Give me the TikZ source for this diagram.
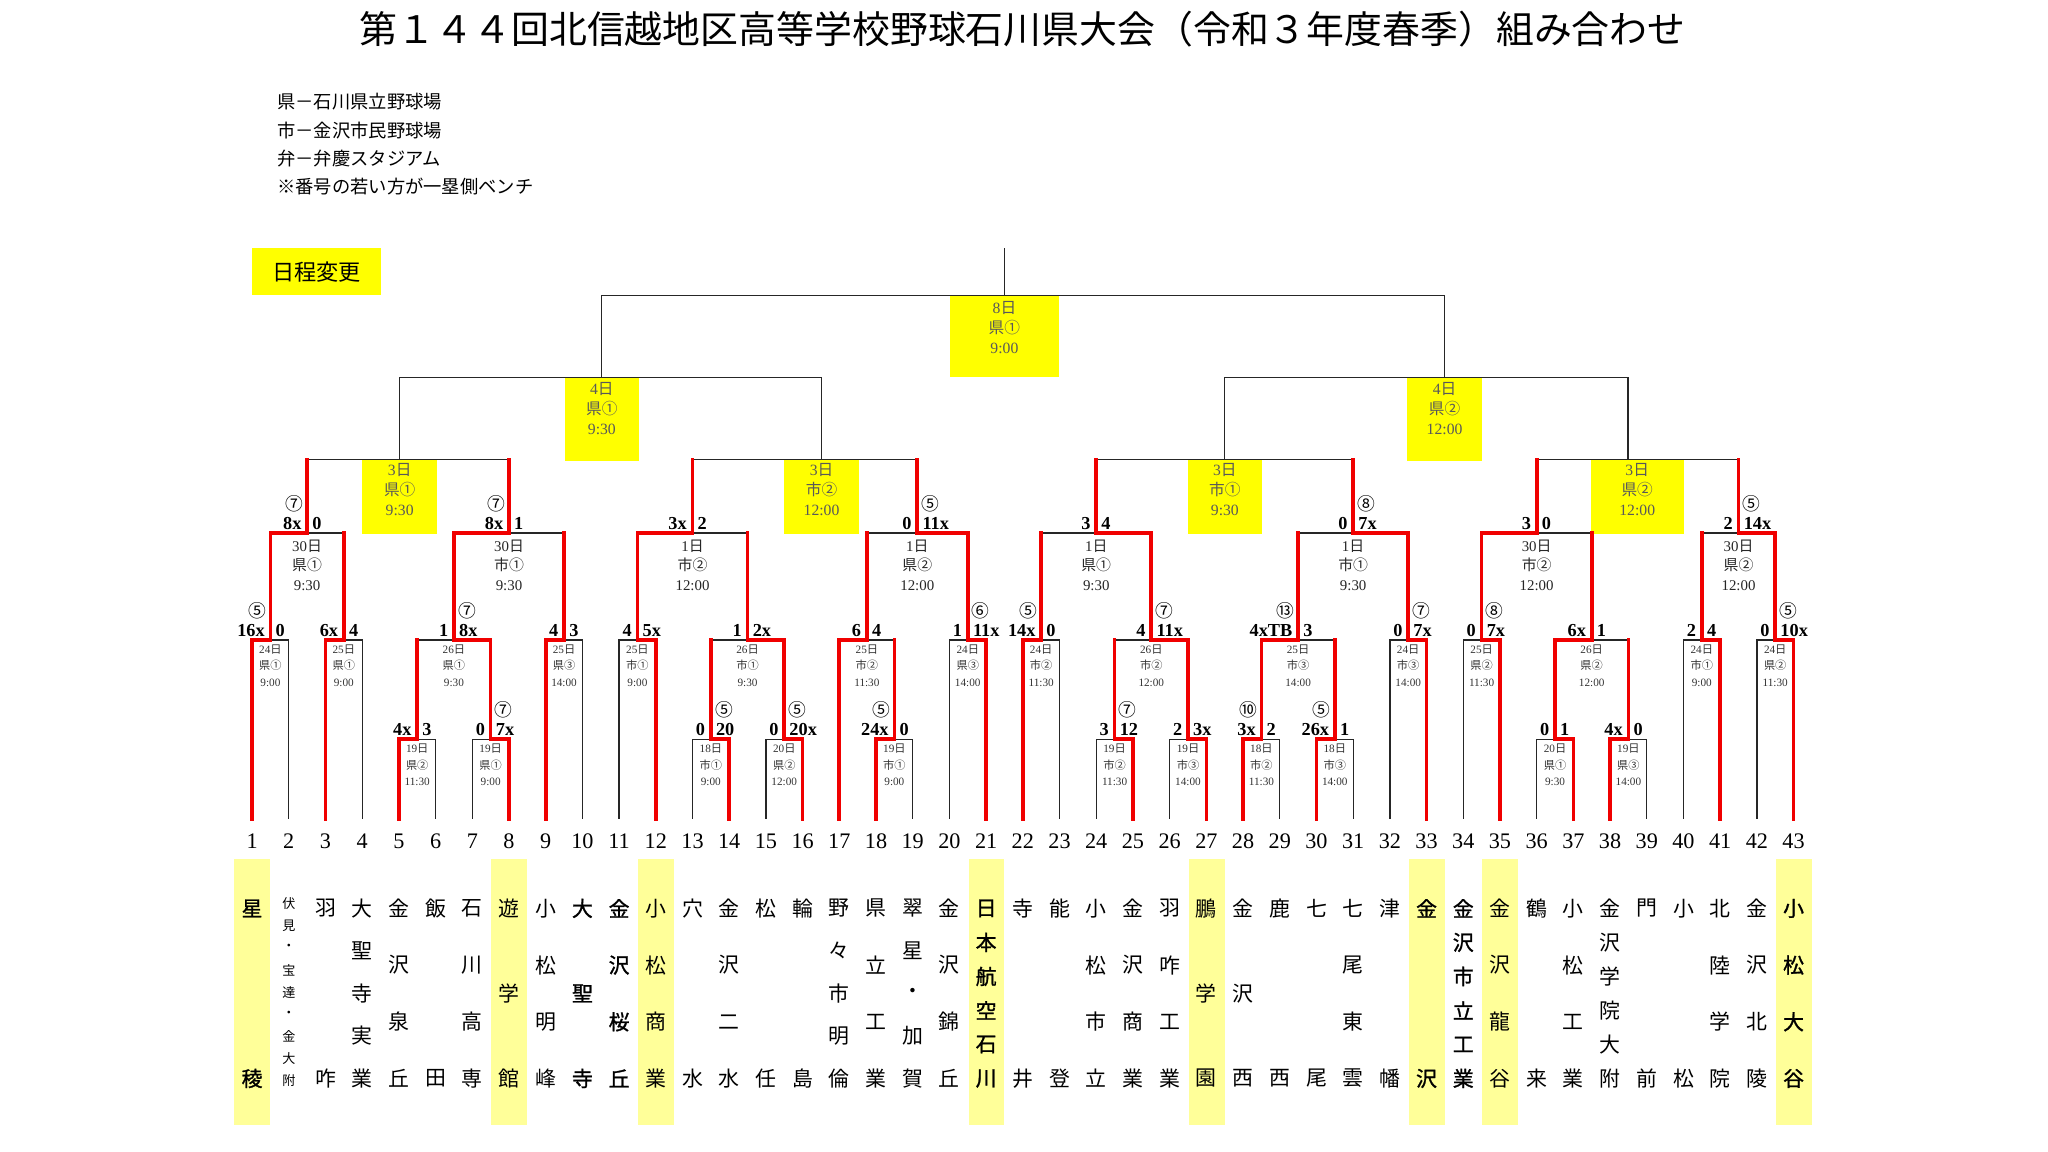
\documentclass[tikz,border=0pt]{standalone}
\usepackage{fontspec}
\setmainfont{Noto Sans CJK JP}
\newfontfamily\lat{Liberation Serif}
\newfontfamily\jpbold[FakeBold=1.2]{Noto Sans CJK JP}
\usetikzlibrary{positioning}
\definecolor{boxyellow}{RGB}{255,255,0}
\definecolor{nameyellow}{RGB}{255,255,153}
\definecolor{winred}{RGB}{240,0,0}
\tikzset{
  bline/.style={draw=black!85, line width=0.5pt},
  win/.style={draw=winred, line width=1.4pt, line cap=rect},
  ybox/.style={rectangle, fill=boxyellow, inner sep=0pt, anchor=north},
  yinfo/.style={align=center, text=black!65, inner sep=0pt, font=\fontsize{6pt}{7.6pt}\selectfont},
  info/.style={align=center, text=black!80, inner sep=0pt, yshift=-9.8pt, font=\fontsize{4.3pt}{6.4pt}\selectfont},
  bigi/.style={align=center, text=black!85, inner sep=0pt, yshift=-12.3pt, font=\fontsize{5.7pt}{7.5pt}\selectfont},
  scl/.style={anchor=south east, inner sep=0pt, xshift=-2pt, yshift=1.2pt, font=\lat\bfseries\fontsize{7pt}{8pt}\selectfont},
  scr/.style={anchor=south west, inner sep=0pt, xshift=1.8pt, yshift=1.2pt, font=\lat\bfseries\fontsize{7pt}{8pt}\selectfont},
  inn/.style={inner sep=0pt, yshift=11.2pt, font=\fontsize{6.8pt}{7pt}\selectfont},
  num/.style={inner sep=0pt, font=\lat\fontsize{8.5pt}{9pt}\selectfont},
  tname/.style={inner sep=0pt, font=\fontsize{8pt}{8pt}\selectfont},
  tbold/.style={inner sep=0pt, font=\jpbold\fontsize{8pt}{8pt}\selectfont},
  tsmall/.style={inner sep=0pt, font=\fontsize{5pt}{5pt}\selectfont},
  hilite/.style={fill=nameyellow},
  lgd/.style={anchor=west, inner sep=0pt, font=\fontsize{7pt}{8pt}\selectfont},
  ttl/.style={inner sep=0pt, font=\fontsize{14.5pt}{16pt}\selectfont}
}
% team name written top to bottom under team #2
\newcommand\teamname[4][tname]{%
  \foreach \ch [count=\jj] in {#3}
    \node[#1] (nm#2-\jj) at ({193+(#2-1)*28.1},{695.5+(\jj-1)*130.2/(#4-1)}) {\ch};}

\begin{document}
\begin{tikzpicture}[x=0.5pt,y=-0.5pt]
  \useasboundingbox (0,0) rectangle (1568,882);
  % title and legend
  \node[ttl] (title) at (783,22) {第１４４回北信越地区高等学校野球石川県大会（令和３年度春季）組み合わせ};
  \node[lgd] (lg1) at (212,78) {県－石川県立野球場};
  \node[lgd] (lg2) at (212,100) {市－金沢市民野球場};
  \node[lgd] (lg3) at (212,121) {弁－弁慶スタジアム};
  \node[lgd] (lg4) at (212,143) {※番号の若い方が一塁側ベンチ};
  \node[ybox, anchor=center, minimum width=49.5pt, minimum height=18pt, font=\fontsize{8.5pt}{9pt}\selectfont] (change) at (242.5,208) {日程変更};

  % teams
  \foreach \i in {1,...,43} {
    \coordinate (t\i) at ({193+(\i-1)*28.1},627);
    \node[num] (n\i) at ({193+(\i-1)*28.1},644) {\i};
  }
  % matches
  \coordinate (a12) at (207.05,490);   \coordinate (a34) at (263.25,490);
  \coordinate (a56) at (319.45,566);   \coordinate (a78) at (375.65,566);
  \coordinate (a58) at (347.55,490);   \coordinate (a910) at (431.85,490);
  \coordinate (a14) at (235.15,408);   \coordinate (a510) at (389.7,408);
  \coordinate (qA) at (306,352);
  \coordinate (b1112) at (488.05,490); \coordinate (b1314) at (544.25,566);
  \coordinate (b1516) at (600.45,566); \coordinate (b1316) at (572.35,490);
  \coordinate (b1116) at (530.2,408);  \coordinate (b1819) at (684.75,566);
  \coordinate (b1719) at (663.7,490);  \coordinate (b2021) at (740.95,490);
  \coordinate (b1721) at (702.3,408);  \coordinate (qB) at (629,352);
  \coordinate (sL) at (460.5,289);
  \coordinate (c2223) at (797.15,490); \coordinate (c2425) at (853.35,566);
  \coordinate (c2627) at (909.55,566); \coordinate (c2427) at (881.45,490);
  \coordinate (c2227) at (839.3,408);  \coordinate (c2829) at (965.75,566);
  \coordinate (c3031) at (1021.95,566);\coordinate (c2831) at (993.85,490);
  \coordinate (c3233) at (1078.15,490);\coordinate (c2833) at (1036,408);
  \coordinate (qC) at (937.7,352);
  \coordinate (d3435) at (1134.35,490);\coordinate (d3637) at (1190.55,566);
  \coordinate (d3839) at (1246.75,566);\coordinate (d3639) at (1218.65,490);
  \coordinate (d3439) at (1176.5,408); \coordinate (d4041) at (1302.95,490);
  \coordinate (d4243) at (1359.15,490);\coordinate (d4043) at (1331.05,408);
  \coordinate (qD) at (1246.4,352);    \coordinate (sR) at (1106,289);
  \coordinate (fin) at (769,226);      \coordinate (top) at (769,190);

  % yellow boxes
  \node[ybox, minimum width=28.5pt, minimum height=28.25pt] (bqA) at (306,352) {};
  \node[ybox, minimum width=28.5pt, minimum height=28.25pt] (bqB) at (629,352) {};
  \node[ybox, minimum width=28.5pt, minimum height=28.25pt] (bqC) at (937.8,352) {};
  \node[ybox, minimum width=35.5pt, minimum height=28.25pt] (bqD) at (1253.5,352) {};
  \node[ybox, minimum width=28.5pt, minimum height=31.75pt] (bsL) at (460.8,289) {};
  \node[ybox, minimum width=28.5pt, minimum height=31.75pt] (bsR) at (1106,289) {};
  \node[ybox, minimum width=42pt, minimum height=31.25pt] (bfin) at (769,226) {};
  \node[yinfo] (iqA) at (306,375) {{\lat 3}日\\県①\\{\lat 9:30}};
  \node[yinfo] (iqB) at (629,375) {{\lat 3}日\\市②\\{\lat 12:00}};
  \node[yinfo] (iqC) at (937.8,375) {{\lat 3}日\\市①\\{\lat 9:30}};
  \node[yinfo] (iqD) at (1253.5,375) {{\lat 3}日\\県②\\{\lat 12:00}};
  \node[yinfo] (isL) at (460.8,312.6) {{\lat 4}日\\県①\\{\lat 9:30}};
  \node[yinfo] (isR) at (1106,312.6) {{\lat 4}日\\県②\\{\lat 12:00}};
  \node[yinfo] (ifin) at (769,250.6) {{\lat 8}日\\県①\\{\lat 9:00}};

  % bracket lines
  \foreach \nd/\up in {t1/a12, t2/a12, t3/a34, t4/a34, t5/a56, t6/a56, t7/a78, t8/a78,
      a56/a58, a78/a58, t9/a910, t10/a910, a12/a14, a34/a14, a58/a510, a910/a510, a14/qA, a510/qA,
      t11/b1112, t12/b1112, t13/b1314, t14/b1314, t15/b1516, t16/b1516, b1314/b1316, b1516/b1316,
      b1112/b1116, b1316/b1116, t18/b1819, t19/b1819, t17/b1719, b1819/b1719, t20/b2021, t21/b2021,
      b1719/b1721, b2021/b1721, b1116/qB, b1721/qB, qA/sL, qB/sL,
      t22/c2223, t23/c2223, t24/c2425, t25/c2425, t26/c2627, t27/c2627, c2425/c2427, c2627/c2427,
      c2223/c2227, c2427/c2227, t28/c2829, t29/c2829, t30/c3031, t31/c3031, c2829/c2831, c3031/c2831,
      t32/c3233, t33/c3233, c2831/c2833, c3233/c2833, c2227/qC, c2833/qC,
      t34/d3435, t35/d3435, t36/d3637, t37/d3637, t38/d3839, t39/d3839, d3637/d3639, d3839/d3639,
      d3435/d3439, d3639/d3439, t40/d4041, t41/d4041, t42/d4243, t43/d4243, d4041/d4043, d4243/d4043,
      d3439/qD, d4043/qD, qC/sR, qD/sR, sL/fin, sR/fin}
    \draw[bline] (\nd) |- (\up);
  \draw[bline] (top) -- (fin);
  % winners
  \foreach \nd/\up in {t1/a12, t3/a34, t5/a56, t8/a78, a78/a58, t9/a910, a12/a14, a58/a510,
      t12/b1112, t14/b1314, t16/b1516, b1516/b1316, b1112/b1116, t18/b1819, t17/b1719, t21/b2021, b2021/b1721,
      t22/c2223, t25/c2425, t27/c2627, c2627/c2427, c2427/c2227, t28/c2829, t30/c3031, c2829/c2831,
      t33/c3233, c3233/c2833,
      t35/d3435, t37/d3637, t38/d3839, d3637/d3639, d3435/d3439, t41/d4041, t43/d4243, d4243/d4043}
    \draw[win] (\nd) |- (\up);
  \foreach \nd/\up in {a34/a14, a56/a58, a910/a510, a14/qA, a510/qA,
      b1314/b1316, b1316/b1116, b1819/b1719, b1719/b1721, b1116/qB, b1721/qB,
      c2223/c2227, c2425/c2427, c2831/c2833, c3031/c2831, c2227/qC, c2833/qC,
      d3839/d3639, d3639/d3439, d4041/d4043, d3439/qD, d4043/qD}
    \draw[win] (\nd) -- (\nd |- \up);

  % scores
  \foreach \md/\ls/\rs in {a12/16x/0, a34/6x/4, a56/4x/3, a78/0/7x, a58/1/8x, a910/4/3, a14/8x/0, a510/8x/1,
      b1112/4/5x, b1314/0/20, b1516/0/20x, b1316/1/2x, b1116/3x/2, b1819/24x/0, b1719/6/4, b2021/1/11x, b1721/0/11x,
      c2223/14x/0, c2425/3/12, c2627/2/3x, c2427/4/11x, c2227/3/4, c2829/3x/2, c3031/26x/1, c2831/4xTB/3,
      c3233/0/7x, c2833/0/7x,
      d3435/0/7x, d3637/0/1, d3839/4x/0, d3639/6x/1, d3439/3/0, d4041/2/4, d4243/0/10x, d4043/2/14x} {
    \node[scl] (\md-l) at (\md) {\ls};
    \node[scr] (\md-r) at (\md) {\rs};
  }
  \foreach \md/\sd/\cn in {a12/-1/⑤, a78/1/⑦, a58/1/⑦, a14/-1/⑦, a510/-1/⑦, b1314/1/⑤, b1516/1/⑤,
      b1819/-1/⑤, b2021/1/⑥, b1721/1/⑤, c2223/-1/⑤, c2425/1/⑦, c2427/1/⑦, c2829/-1/⑩, c3031/-1/⑤,
      c2831/-1/⑬, c3233/1/⑦, c2833/1/⑧, d3435/1/⑧, d4243/1/⑤, d4043/1/⑤}
    \node[inn, xshift=\sd*5pt] (\md-c) at (\md) {\cn};

  % dates and grounds
  \foreach \md/\dy/\vn/\tm in {a12/24/県①/9:00, a34/25/県①/9:00, a56/19/県②/11:30, a78/19/県①/9:00,
      a58/26/県①/9:30, a910/25/県③/14:00, b1112/25/市①/9:00, b1314/18/市①/9:00, b1516/20/県②/12:00,
      b1316/26/市①/9:30, b1819/19/市①/9:00, b1719/25/市②/11:30, b2021/24/県③/14:00,
      c2223/24/市②/11:30, c2425/19/市②/11:30, c2627/19/市③/14:00, c2427/26/市②/12:00,
      c2829/18/市②/11:30, c3031/18/市③/14:00, c2831/25/市③/14:00, c3233/24/市③/14:00,
      d3435/25/県②/11:30, d3637/20/県①/9:30, d3839/19/県③/14:00, d3639/26/県②/12:00,
      d4041/24/市①/9:00, d4243/24/県②/11:30}
    \node[info] (\md-i) at (\md) {{\lat\dy}日\\\vn\\{\lat\tm}};
  \foreach \md/\dy/\vn/\tm in {a14/30/県①/9:30, a510/30/市①/9:30, b1116/1/市②/12:00, b1721/1/県②/12:00,
      c2227/1/県①/9:30, c2833/1/市①/9:30, d3439/30/市②/12:00, d4043/30/県②/12:00}
    \node[bigi] (\md-i) at (\md) {{\lat\dy}日\\\vn\\{\lat\tm}};

  % school names
  \foreach \i in {1,8,12,21,27,33,35,43}
    \fill[hilite] ({193+(\i-1)*28.1-13.5},657.7) rectangle ({193+(\i-1)*28.1+14},861.5);
  \teamname[tbold]{1}{星,稜}{2}
  \foreach \ch [count=\jj] in {伏,見,・,宝,達,・,金,大,附}
    \node[tsmall] (nm2-\jj) at (221.1,{691.7+(\jj-1)*16.98}) {\ch};
  \teamname{3}{羽,咋}{2}
  \teamname{4}{大,聖,寺,実,業}{5}
  \teamname{5}{金,沢,泉,丘}{4}
  \teamname{6}{飯,田}{2}
  \teamname{7}{石,川,高,専}{4}
  \teamname{8}{遊,学,館}{3}
  \teamname{9}{小,松,明,峰}{4}
  \teamname[tbold]{10}{大,聖,寺}{3}
  \teamname[tbold]{11}{金,沢,桜,丘}{4}
  \teamname{12}{小,松,商,業}{4}
  \teamname{13}{穴,水}{2}
  \teamname{14}{金,沢,二,水}{4}
  \teamname{15}{松,任}{2}
  \teamname{16}{輪,島}{2}
  \teamname{17}{野,々,市,明,倫}{5}
  \teamname{18}{県,立,工,業}{4}
  \teamname{19}{翠,星,・,加,賀}{5}
  \teamname{20}{金,沢,錦,丘}{4}
  \teamname[tbold]{21}{日,本,航,空,石,川}{6}
  \teamname{22}{寺,井}{2}
  \teamname{23}{能,登}{2}
  \teamname{24}{小,松,市,立}{4}
  \teamname{25}{金,沢,商,業}{4}
  \teamname{26}{羽,咋,工,業}{4}
  \teamname{27}{鵬,学,園}{3}
  \teamname{28}{金,沢,西}{3}
  \teamname{29}{鹿,西}{2}
  \teamname{30}{七,尾}{2}
  \teamname{31}{七,尾,東,雲}{4}
  \teamname{32}{津,幡}{2}
  \teamname[tbold]{33}{金,沢}{2}
  \teamname[tbold]{34}{金,沢,市,立,工,業}{6}
  \teamname{35}{金,沢,龍,谷}{4}
  \teamname{36}{鶴,来}{2}
  \teamname{37}{小,松,工,業}{4}
  \teamname{38}{金,沢,学,院,大,附}{6}
  \teamname{39}{門,前}{2}
  \teamname{40}{小,松}{2}
  \teamname{41}{北,陸,学,院}{4}
  \teamname{42}{金,沢,北,陵}{4}
  \teamname[tbold]{43}{小,松,大,谷}{4}
\end{tikzpicture}
\end{document}
